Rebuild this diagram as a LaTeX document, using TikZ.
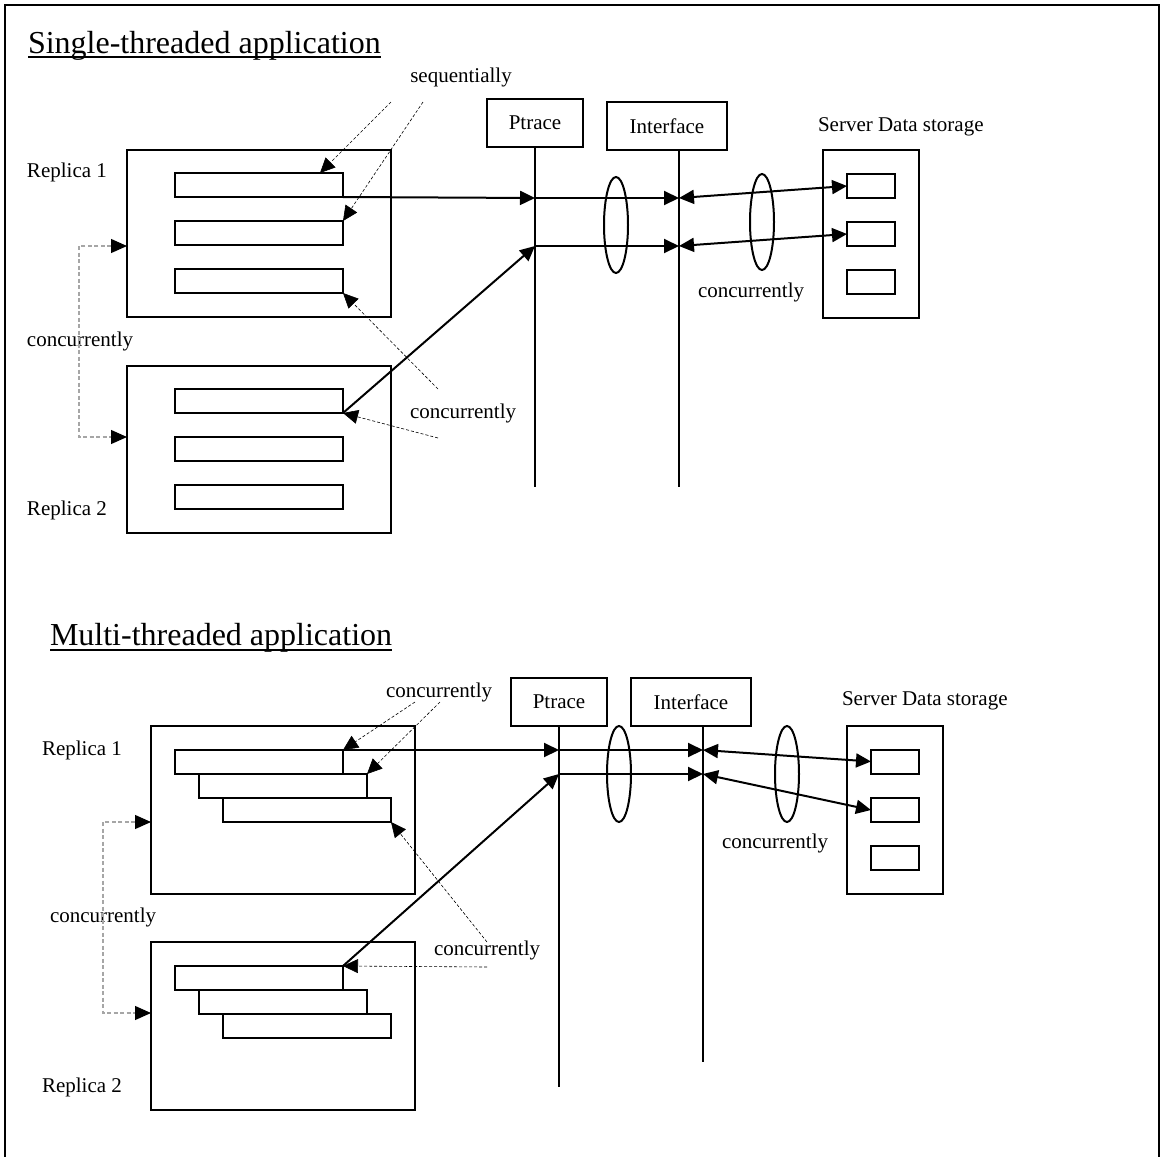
\documentclass[tikz,border=0pt]{standalone}
\usepackage{fontspec}
\setmainfont{Liberation Serif}
\usetikzlibrary{arrows.meta,shapes.geometric,calc}
\newcommand\lblfont{\fontsize{21}{25}\selectfont}
\newcommand\ttlfont{\fontsize{32}{38}\selectfont}
\begin{document}
\begin{tikzpicture}[x=1pt,y=-1pt,
  every node/.style={font=\lblfont, inner sep=0pt, outer sep=0pt},
  bigbox/.style={draw, line width=2pt, minimum width=264pt, minimum height=167pt},
  thr/.style={draw, line width=2pt, minimum width=168pt, minimum height=24pt},
  lbox/.style={draw, line width=2pt, minimum height=48pt},
  srv/.style={draw, line width=2pt, minimum width=96pt, minimum height=168pt},
  cell/.style={draw, line width=2pt, minimum width=48pt, minimum height=24pt},
  oval/.style={draw, ellipse, line width=2pt, minimum width=24pt, minimum height=96pt},
  life/.style={line width=2pt},
  msg/.style={line width=2pt, -{Triangle[length=15pt,width=14pt]}},
  dmsg/.style={line width=2pt, {Triangle[length=15pt,width=14pt]}-{Triangle[length=15pt,width=14pt]}},
  note/.style={line width=0.6pt, dash pattern=on 3pt off 2pt, -{Triangle[length=15pt,width=14pt]}},
  brk/.style={line width=1.2pt, gray!70, dash pattern=on 4pt off 2.5pt,
    {Triangle[length=16pt,width=14pt,color=black]}-{Triangle[length=16pt,width=14pt,color=black]}},
  ttl/.style={font=\ttlfont, anchor=base west},
  txt/.style={anchor=west}
]
\useasboundingbox (0,0) rectangle (1160,1157);
% outer frame (bottom edge outside the picture)
\draw[line width=2pt] (5,1170) -- (5,5) -- (1159,5) -- (1159,1170);

% ================= Single-threaded =================
\node[ttl] (t1) at (28,53) {Single-threaded application};
\draw[line width=1.5pt] ($(t1.base west)+(0,4)$) -- ($(t1.base east)+(0,4)$);

\node[bigbox] (R1) at (259,233.5) {};
\node[thr] (r11) at (259,185) {};
\node[thr] (r12) at (259,233) {};
\node[thr] (r13) at (259,281) {};
\node[bigbox] (R2) at (259,449) {};
\node[thr] (r21) at (259,401) {};
\node[thr] (r22) at (259,449) {};
\node[thr] (r23) at (259,497) {};

\node[txt] (lr1) at (27,172) {Replica 1};
\node[txt] (lcc) at (27,341) {concurrently};
\node[txt] (lr2) at (27,510) {Replica 2};
\node (lseq) at (461,77) {sequentially};
\node[txt] (lcm) at (410,413) {concurrently};
\node[txt] (lcr) at (698,292) {concurrently};
\node[txt] (lsd) at (818,127) {Server Data storage};

\node[lbox, minimum width=96pt] (P) at (535,122.5) {Ptrace};
\node[lbox, minimum width=120pt] (I) at (667,126) {Interface};
\node[srv] (S) at (871,233.5) {};
\node[cell] (s1) at (871,186) {};
\node[cell] (s2) at (871,234) {};
\node[cell] (s3) at (871,282) {};

\node[oval] (e1) at (616,225) {};
\node[oval] (e2) at (762,222) {};

\coordinate (pTop) at (535,147);
\coordinate (pBot) at (535,487);
\coordinate (iTop) at (679,150);
\coordinate (iBot) at (679,487);
\draw[life] (pTop) -- (pBot);
\draw[life] (iTop) -- (iBot);
\coordinate (p1) at (535,198);
\coordinate (p2) at (535,246);
\coordinate (i1) at (679,198);
\coordinate (i2) at (679,246);

\draw[msg] (r11.south east) -- (p1);
\draw[msg] (p1) -- (i1);
\draw[msg] (p2) -- (i2);
\draw[msg] (r21.south east) -- (p2);
\draw[dmsg] (i1) -- (s1.west);
\draw[dmsg] (i2) -- (s2.west);

\coordinate (sqa) at (391,102);
\coordinate (sqb) at (423,102);
\coordinate (cca) at (438,389);
\coordinate (ccb) at (438,438);
\draw[note] (sqa) -- ($(r11.north east)+(-23,0)$);
\draw[note] (sqb) -- (r12.north east);
\draw[note] (cca) -- (r13.south east);
\draw[note] (ccb) -- (r21.south east);

\coordinate (b1) at (127,246);
\coordinate (b2) at (127,437);
\draw[brk] (b1) -- (79,246) -- (79,437) -- (b2);

% ================= Multi-threaded =================
\node[ttl] (t2) at (50,645) {Multi-threaded application};
\draw[line width=1.5pt] ($(t2.base west)+(0,5)$) -- ($(t2.base east)+(0,5)$);

\node[bigbox, minimum height=168pt] (M1) at (283,810) {};
\node[thr] (m11) at (259,762) {};
\node[thr] (m12) at (283,786) {};
\node[thr] (m13) at (307,810) {};
\node[bigbox, minimum height=168pt] (M2) at (283,1026) {};
\node[thr] (m21) at (259,978) {};
\node[thr] (m22) at (283,1002) {};
\node[thr] (m23) at (307,1026) {};

\node[txt] (mr1) at (42,750) {Replica 1};
\node[txt] (mcc) at (50,917) {concurrently};
\node[txt] (mr2) at (42,1087) {Replica 2};
\node[txt] (mct) at (386,692) {concurrently};
\node[txt] (mcm) at (434,950) {concurrently};
\node[txt] (mcr) at (722,843) {concurrently};
\node[txt] (msd) at (842,701) {Server Data storage};

\node[lbox, minimum width=96pt] (P2) at (559,702) {Ptrace};
\node[lbox, minimum width=120pt] (I2) at (691,702) {Interface};
\node[srv] (S2) at (895,810) {};
\node[cell] (t21) at (895,761.5) {};
\node[cell] (t22) at (895,810) {};
\node[cell] (t23) at (895,858) {};

\node[oval] (f1) at (619,774) {};
\node[oval] (f2) at (787,774) {};

\coordinate (qTop) at (559,726);
\coordinate (qBot) at (559,1087);
\coordinate (jTop) at (703,726);
\coordinate (jBot) at (703,1062);
\draw[life] (qTop) -- (qBot);
\draw[life] (jTop) -- (jBot);
\coordinate (q1) at (559,750);
\coordinate (q2) at (559,774);
\coordinate (j1) at (703,750);
\coordinate (j2) at (703,774);

\draw[msg] (m11.north east) -- (q1);
\draw[msg] (q1) -- (j1);
\draw[msg] (q2) -- (j2);
\draw[msg] (m21.north east) -- (q2);
\draw[dmsg] (j1) -- (t21.west);
\draw[dmsg] (j2) -- (t22.west);

\coordinate (mca) at (415,702);
\coordinate (mcb) at (440,702);
\coordinate (mcc2) at (487,942);
\coordinate (mcd) at (487,967);
\draw[note] (mca) -- (m11.north east);
\draw[note] (mcb) -- (m12.north east);
\draw[note] (mcc2) -- (m13.south east);
\draw[note] (mcd) -- (m21.north east);

\coordinate (c1) at (151,822);
\coordinate (c2) at (151,1013);
\draw[brk] (c1) -- (103,822) -- (103,1013) -- (c2);
\end{tikzpicture}
\end{document}
